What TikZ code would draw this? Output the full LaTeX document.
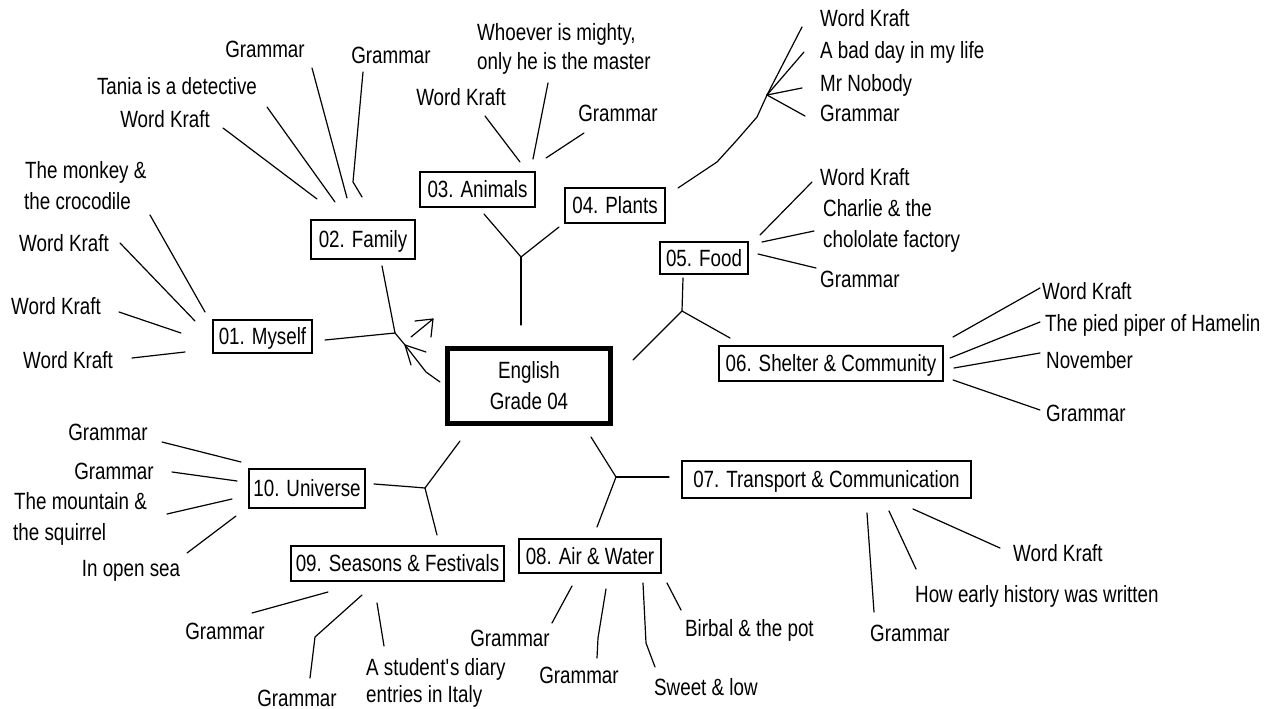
\documentclass[tikz,border=0pt]{standalone}
\usepackage{fontspec}
\setmainfont{Liberation Sans}[FakeStretch=0.8]
\newcommand\fsz{\fontsize{23.5}{31}\selectfont}
\begin{document}
\begin{tikzpicture}[x=1pt,y=-1pt,
  conn/.style={line width=1.2pt, line cap=round, line join=round},
  box/.style={draw, line width=1.4pt, inner sep=0pt, font=\fsz, text height=16.5pt, text depth=0pt},
  lbl/.style={inner sep=0pt, font=\fsz, text height=16.5pt, text depth=0pt},
  lw/.style={lbl, anchor=west},
  lc/.style={lbl, anchor=center}]
\useasboundingbox[fill=white] (0,0) rectangle (1282,709);

% ---- main boxes
\node[draw, line width=5pt, minimum width=163pt, minimum height=75pt, inner sep=0pt] (eng) at (528.5,385.5) {};
\node[lc] (engA) at (529,370) {English};
\node[lc] (engB) at (529,401) {Grade 04};
\node[box, minimum width=99pt,  minimum height=33pt] (myself)    at (262.5,336.5) {01. Myself};
\node[box, minimum width=104pt, minimum height=39pt] (family)    at (363,239.5)   {02. Family};
\node[box, minimum width=115pt, minimum height=35pt] (animals)   at (477.5,189.5) {03. Animals};
\node[box, minimum width=100pt, minimum height=35pt] (plants)    at (615,205.5)   {04. Plants};
\node[box, minimum width=88pt,  minimum height=32pt] (food)      at (704,258)     {05. Food};
\node[box, minimum width=224pt, minimum height=35pt] (shelter)   at (831,363.5)   {06. Shelter \& Community};
\node[box, minimum width=289pt, minimum height=37pt] (transport) at (826.5,479.5) {07. Transport \& Communication};
\node[box, minimum width=142pt, minimum height=34pt] (air)       at (590,556)     {08. Air \& Water};
\node[box, minimum width=213pt, minimum height=35pt] (seasons)   at (397.5,563.5) {09. Seasons \& Festivals};
\node[box, minimum width=116pt, minimum height=39pt] (universe)  at (307,488.5)   {10. Universe};

% ---- junctions
\coordinate (j1) at (395,333);
\coordinate (j2) at (425,488);
\coordinate (j3) at (616,477);
\coordinate (j4) at (521,257);
\coordinate (j5) at (682,311);
\coordinate (j6) at (767,95);

% ---- 01 Myself
\node[lw] (m1a) at (25,170) {The monkey \&};
\node[lw] (m1b) at (24,201) {the crocodile};
\node[lc] (m2) at (64,243) {Word Kraft};
\node[lc] (m3) at (56,306) {Word Kraft};
\node[lc] (m4) at (68,360) {Word Kraft};
\draw[conn] (150,215) -- (205,312);
\draw[conn] (120,243) -- (195,321);
\draw[conn] (119,312) -- (181,333);
\draw[conn] (132,358) -- (185,352);
\draw[conn] (325,340) -- (j1);

% ---- 02 Family
\node[lc] (f1) at (265,49) {Grammar};
\node[lc] (f2) at (391,55) {Grammar};
\node[lc] (f3) at (177,86) {Tania is a detective};
\node[lc] (f4) at (165,119) {Word Kraft};
\draw[conn] (223,128) -- (317,199);
\draw[conn] (267,107) -- (335,202);
\draw[conn] (312,68) -- (347,198);
\draw[conn] (363,72) -- (353,182) -- (362,197);
\draw[conn] (382,266) -- (j1);

% ---- junction near centre
\draw[conn] (j1) -- (405,345) -- (426,372) -- (440,382);
\draw[conn] (426,352) -- (405,345) -- (411,365);
\draw[conn] (411,337) -- (433,319);
\draw[conn] (415,321) -- (433,319) -- (431,337);

% ---- 03 Animals
\node[lw] (a1a) at (477,32) {Whoever is mighty,};
\node[lw] (a1b) at (477,61) {only he is the master};
\node[lc] (a2) at (461,97) {Word Kraft};
\node[lc] (a3) at (618,113) {Grammar};
\draw[conn] (485,116) -- (520,162);
\draw[conn] (548,83) -- (533,159);
\draw[conn] (584,133) -- (546,158);
\draw[conn] (484,214) -- (j4) -- (559,227);
\draw[conn] (j4) -- (521,325);

% ---- 04 Plants
\node[lw] (p1) at (820,18) {Word Kraft};
\node[lw] (p2) at (820,50) {A bad day in my life};
\node[lw] (p3) at (820,83) {Mr Nobody};
\node[lw] (p4) at (820,113) {Grammar};
\draw[conn] (678,188) -- (717,162) -- (737,140) -- (757,117) -- (j6);
\draw[conn] (j6) -- (802,27);
\draw[conn] (j6) -- (804,52);
\draw[conn] (j6) -- (802,88);
\draw[conn] (j6) -- (805,116);

% ---- 05 Food
\node[lw] (d1) at (820,177) {Word Kraft};
\node[lw] (d2a) at (823,208) {Charlie \& the};
\node[lw] (d2b) at (823,239) {chololate factory};
\node[lw] (d3) at (820,279) {Grammar};
\draw[conn] (760,235) -- (812,182);
\draw[conn] (762,242) -- (814,231);
\draw[conn] (758,254) -- (816,268);
\draw[conn] (683,278) -- (j5);
\draw[conn] (633,360) -- (j5) -- (730,338);

% ---- 06 Shelter
\node[lw] (s1) at (1042,291) {Word Kraft};
\node[lw] (s2) at (1045,323) {The pied piper of Hamelin};
\node[lw] (s3) at (1046,360) {November};
\node[lw] (s4) at (1046,413) {Grammar};
\draw[conn] (953,337) -- (1040,288);
\draw[conn] (950,358) -- (1040,322);
\draw[conn] (954,368) -- (1040,353);
\draw[conn] (953,380) -- (1040,410);

% ---- 07 Transport / 08 Air junction
\draw[conn] (591,437) -- (j3) -- (597,527);
\draw[conn] (j3) -- (669,477);
\node[lw] (t1) at (1013,553) {Word Kraft};
\node[lw] (t2) at (915,594) {How early history was written};
\node[lw] (t3) at (870,633) {Grammar};
\draw[conn] (867,513) -- (874,612);
\draw[conn] (889,511) -- (916,569);
\draw[conn] (913,509) -- (1000,548);

% ---- 08 Air & Water
\node[lc] (w1) at (510,638) {Grammar};
\node[lc] (w2) at (579,675) {Grammar};
\node[lw] (w3) at (654,687) {Sweet \& low};
\node[lw] (w4) at (685,628) {Birbal \& the pot};
\draw[conn] (572,586) -- (552,623);
\draw[conn] (606,589) -- (598,638) -- (597,658);
\draw[conn] (643,583) -- (646,643) -- (655,667);
\draw[conn] (667,583) -- (681,610);

% ---- 09 Seasons
\node[lc] (e1) at (225,631) {Grammar};
\node[lc] (e2) at (297,698) {Grammar};
\node[lw] (e3a) at (366,667) {A student\textquotesingle s diary};
\node[lw] (e3b) at (366,694) {entries in Italy};
\draw[conn] (252,613) -- (328,592);
\draw[conn] (362,595) -- (315,637) -- (310,678);
\draw[conn] (377,603) -- (384,646);

% ---- 10 Universe
\node[lc] (u1) at (108,432) {Grammar};
\node[lc] (u2) at (114,471) {Grammar};
\node[lw] (u3a) at (14,501) {The mountain \&};
\node[lw] (u3b) at (13,532) {the squirrel};
\node[lc] (u4) at (131,568) {In open sea};
\draw[conn] (162,442) -- (241,462);
\draw[conn] (172,472) -- (237,481);
\draw[conn] (167,514) -- (232,499);
\draw[conn] (187,553) -- (236,516);
\draw[conn] (374,484) -- (413,487) -- (j2);
\draw[conn] (j2) -- (460,441);
\draw[conn] (j2) -- (437,535);
\end{tikzpicture}
\end{document}
